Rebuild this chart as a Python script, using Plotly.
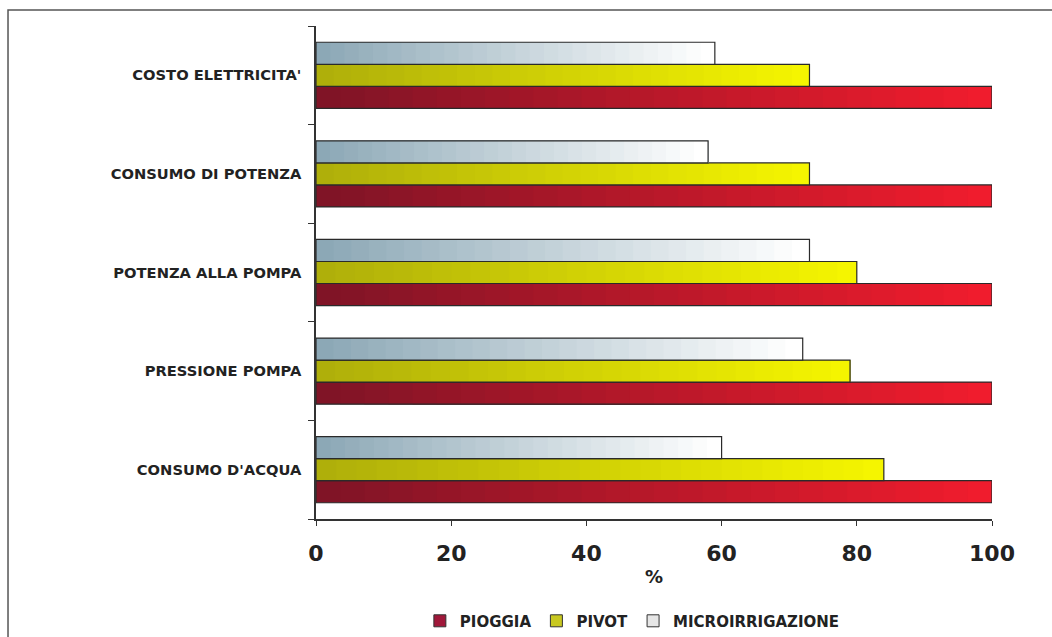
import plotly.graph_objects as go

# ---- data ----
categories = ["COSTO ELETTRICITA'", "CONSUMO DI POTENZA", "POTENZA ALLA POMPA",
              "PRESSIONE POMPA", "CONSUMO D'ACQUA"]
pioggia = [100, 100, 100, 100, 100]
pivot = [73, 73, 80, 79, 84]
micro = [59, 58, 73, 72, 60]
series_names = ["PIOGGIA", "PIVOT", "MICROIRRIGAZIONE"]
x_ticks = [0, 20, 40, 60, 80, 100]

# gradient colours (left -> right) and legend colours
grad = {
    "PIOGGIA": ((128, 20, 38), (240, 28, 45)),
    "PIVOT": ((175, 175, 10), (245, 245, 0)),
    "MICROIRRIGAZIONE": ((140, 168, 182), (255, 255, 255)),
}
legend_col = {"PIOGGIA": "#a0183a", "PIVOT": "#c8c820", "MICROIRRIGAZIONE": "#e6e6e6"}

N = 28
fig = go.Figure()
values = {"PIOGGIA": pioggia, "PIVOT": pivot, "MICROIRRIGAZIONE": micro}

def mix(a, b, t):
    return "rgb(%d,%d,%d)" % tuple(round(a[i] + (b[i] - a[i]) * t) for i in range(3))

for name in series_names:
    vals = values[name]
    c0, c1 = grad[name]
    for k in range(N):
        f = k / N
        fig.add_trace(go.Bar(
            y=categories, x=[v * (1 - f) for v in vals], base=[v * f for v in vals],
            orientation="h", offsetgroup=name,
            marker=dict(color=mix(c0, c1, k / (N - 1)), line=dict(width=0)),
            showlegend=False, hoverinfo="skip"))
    # outline
    fig.add_trace(go.Bar(
        y=categories, x=vals, orientation="h", offsetgroup=name, name=name,
        marker=dict(color="rgba(0,0,0,0)", line=dict(color="#2a2a2a", width=1.2)),
        showlegend=False))
    # legend entry
    fig.add_trace(go.Bar(
        y=[None], x=[None], orientation="h", offsetgroup=name, name=name,
        marker=dict(color=legend_col[name], line=dict(color="#333", width=1)),
        showlegend=True))

font_fam = "DejaVu Sans"
fig.update_layout(
    width=1052, height=637,
    margin=dict(l=316, r=60, t=26, b=118, autoexpand=False),
    paper_bgcolor="white", plot_bgcolor="white",
    barmode="group", bargap=0.33, bargroupgap=0,
    font=dict(family=font_fam, color="#222", weight="bold"),
    showlegend=True,
    legend=dict(orientation="h", x=0.468, xanchor="center", y=-0.207, yanchor="middle",
                font=dict(size=15, family=font_fam, weight="bold", color="#222"),
                itemwidth=30, traceorder="normal"),
    xaxis=dict(range=[0, 100], tickvals=x_ticks, ticks="outside", ticklen=5,
               tickcolor="#333", showline=True, linecolor="#333", linewidth=1.5,
               showgrid=False, zeroline=False, ticklabelstandoff=9, automargin=False,
               tickfont=dict(size=22, family=font_fam, weight="bold", color="#222"),
               title=dict(text="%", standoff=5,
                          font=dict(size=18, family=font_fam, weight="bold", color="#222"))),
    yaxis=dict(type="category", categoryorder="array", categoryarray=categories[::-1],
               tickson="boundaries", ticks="outside", ticklen=6, tickcolor="#333",
               showline=True, linecolor="#333", linewidth=1.5, showgrid=False,
               ticklabelstandoff=10, automargin=False,
               tickfont=dict(size=14.7, family=font_fam, weight="bold", color="#222")),
    shapes=[dict(type="rect", xref="paper", yref="paper",
                 x0=-0.4556, x1=1.12, y0=-0.3, y1=1.0325,
                 line=dict(color="#555", width=1.5), fillcolor="rgba(0,0,0,0)")],
)

fig.write_html("out.html")
